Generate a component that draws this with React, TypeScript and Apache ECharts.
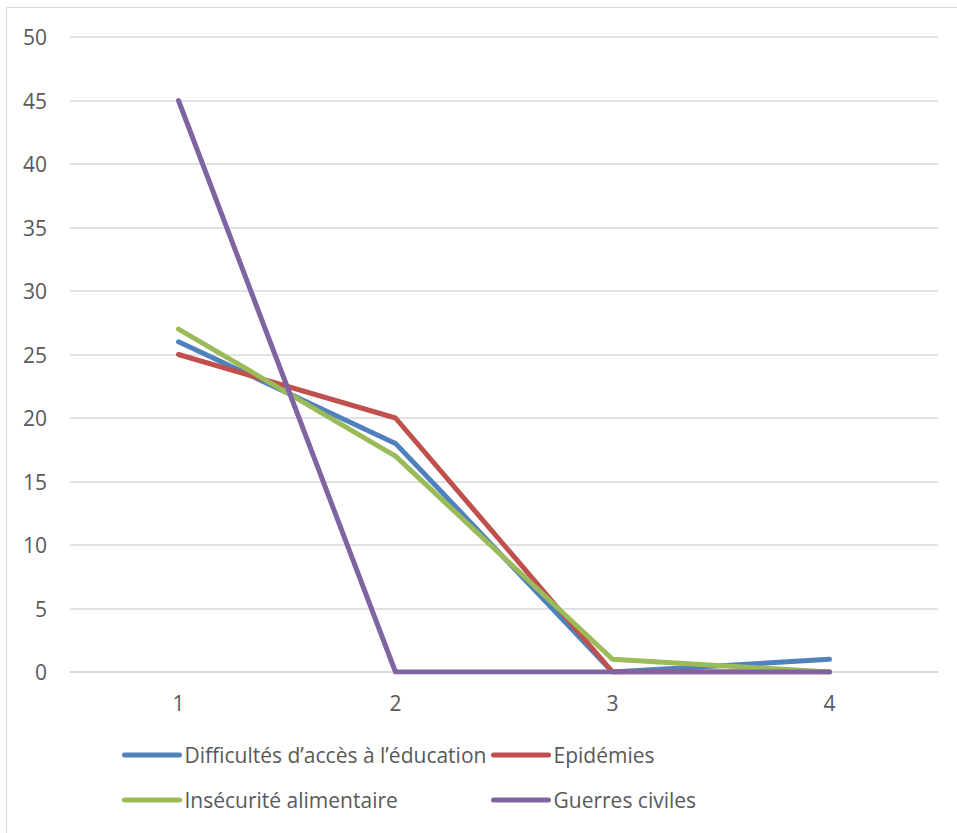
import React, { useEffect, useRef } from "react";
import * as echarts from "echarts";

const categories = ["1", "2", "3", "4"];
const seriesNames = [
  "Difficultés d’accès à l’éducation",
  "Epidémies",
  "Insécurité alimentaire",
  "Guerres civiles",
];
const educationValues = [26, 18, 0, 1];
const epidemicValues = [25, 20, 0, 0];
const foodValues = [27, 17, 1, 0];
const warValues = [45, 0, 0, 0];
const seriesColors = ["#4f81bd", "#c0504d", "#9bbb59", "#8064a2"];

const FONT = "'Open Sans', sans-serif";
const TXT = "#595959";
const FS = 21;

export default function App() {
  const ref = useRef<HTMLDivElement>(null);
  useEffect(() => {
    if (!ref.current) return;
    const chart = echarts.init(ref.current, null, { renderer: "svg" });
    const values = [educationValues, epidemicValues, foodValues, warValues];
    const legendCommon = {
      orient: "vertical" as const,
      top: 743,
      padding: 0,
      itemWidth: 55,
      itemHeight: 24,
      itemGap: 21,
      itemStyle: { opacity: 0 },
      lineStyle: { width: 5, cap: "round" },
      textStyle: { color: TXT, fontSize: FS, fontFamily: FONT, lineHeight: 24 },
      selectedMode: false,
    };
    chart.setOption({
      animation: false,
      backgroundColor: "#ffffff",
      grid: { left: 70, right: 19, top: 37, bottom: 161 },
      legend: [
        { ...legendCommon, left: 122, data: [seriesNames[0], seriesNames[2]] },
        { ...legendCommon, left: 491, data: [seriesNames[1], seriesNames[3]] },
      ],
      xAxis: {
        type: "category",
        data: categories,
        boundaryGap: true,
        axisLine: { show: true, lineStyle: { color: "#d9d9d9", width: 1.5 } },
        axisTick: { show: false },
        axisLabel: { color: TXT, fontSize: FS, fontFamily: FONT, margin: 20 },
      },
      yAxis: {
        type: "value",
        min: 0,
        max: 50,
        interval: 5,
        axisLine: { show: false },
        axisTick: { show: false },
        splitLine: { lineStyle: { color: "#d9d9d9", width: 1.5 } },
        axisLabel: { color: TXT, fontSize: FS, fontFamily: FONT, margin: 23 },
      },
      series: seriesNames.map((name, i) => ({
        name,
        type: "line",
        data: values[i],
        symbol: "none",
        color: seriesColors[i],
        lineStyle: { width: 5, color: seriesColors[i], cap: "round", join: "round" },
      })),
      graphic: [
        {
          type: "rect",
          shape: { x: 6.5, y: 7.5, width: 1000, height: 1000 },
          style: { fill: "none", stroke: "#d9d9d9", lineWidth: 1 },
          silent: true,
        },
      ],
    });
    return () => chart.dispose();
  }, []);
  return (
    <div
      ref={ref}
      style={{ position: "absolute", left: 0, top: 0, width: 957, height: 833 }}
    />
  );
}
